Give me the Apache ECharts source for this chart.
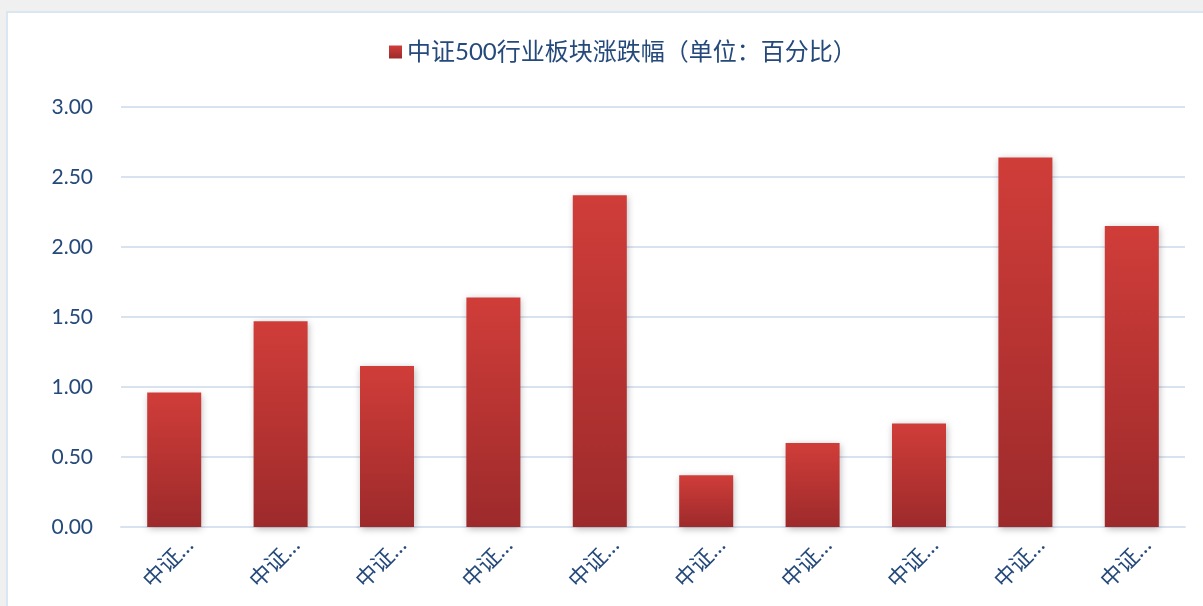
<!DOCTYPE html>
<html>
<head>
<meta charset="utf-8">
<script src="https://cdn.jsdelivr.net/npm/echarts@6/dist/echarts.min.js"></script>
<style>
  html, body { margin: 0; padding: 0; background: #f0f0f0; overflow: hidden; }
  #panel { position: absolute; left: 6px; top: 11px; width: 1210px; height: 610px; background: #fff; border: 2px solid #dbe6f3; box-sizing: border-box; }
  #main { position: absolute; left: 0; top: 0; width: 1203px; height: 606px; }
</style>
</head>
<body>
<div id="panel"></div>
<div id="main"></div>
<script>
// 类别（图中标签被截断显示）
var categories = ['中证…', '中证…', '中证…', '中证…', '中证…', '中证…', '中证…', '中证…', '中证…', '中证…'];
// 涨跌幅（百分比）
var changeValues = [0.96, 1.47, 1.15, 1.64, 2.37, 0.37, 0.60, 0.74, 2.64, 2.15];
var seriesName = '中证500行业板块涨跌幅（单位：百分比）';

var myChart = echarts.init(document.getElementById('main'));

var barColor = new echarts.graphic.LinearGradient(0, 0, 0, 1, [
	{ offset: 0, color: '#d03d39' },
	{ offset: 1, color: '#9d2a2b' }
]);
var textColor = '#24497a';
var fontFamily = 'Lato, "Noto Sans CJK SC", sans-serif';

var option = {
	animation: false,
	textStyle: { fontFamily: fontFamily },
	legend: {
		top: 35,
		left: 384,
		itemWidth: 13,
		itemHeight: 13,
		itemGap: 8,
		textStyle: { color: textColor, fontSize: 24, fontFamily: fontFamily },
		data: [{ name: seriesName, icon: 'rect' }]
	},
	grid: {
		left: 121,
		right: 18,
		top: 107,
		bottom: 79
	},
	xAxis: {
		type: 'category',
		data: categories,
		axisLine: { show: true, lineStyle: { color: '#d9e3f0', width: 2 } },
		axisTick: { show: false },
		axisLabel: {
			rotate: 45,
			margin: 30,
			color: textColor,
			fontSize: 22,
			padding: [0, -22, 0, 0],
			fontFamily: fontFamily
		}
	},
	yAxis: {
		type: 'value',
		min: 0,
		max: 3,
		interval: 0.5,
		axisLine: { show: false },
		axisTick: { show: false },
		splitLine: { lineStyle: { color: '#d9e3f0', width: 2 } },
		axisLabel: {
			margin: 28,
			color: textColor,
			fontSize: 21,
			fontFamily: fontFamily,
			formatter: function (v) { return v.toFixed(2); }
		}
	},
	series: [{
		name: seriesName,
		type: 'bar',
		data: changeValues,
		barWidth: 54,
		itemStyle: {
			color: barColor,
			shadowBlur: 7,
			shadowColor: 'rgba(0,0,0,0.28)',
			shadowOffsetX: 1,
			shadowOffsetY: 2
		}
	}]
};

myChart.setOption(option);
</script>
</body>
</html>
